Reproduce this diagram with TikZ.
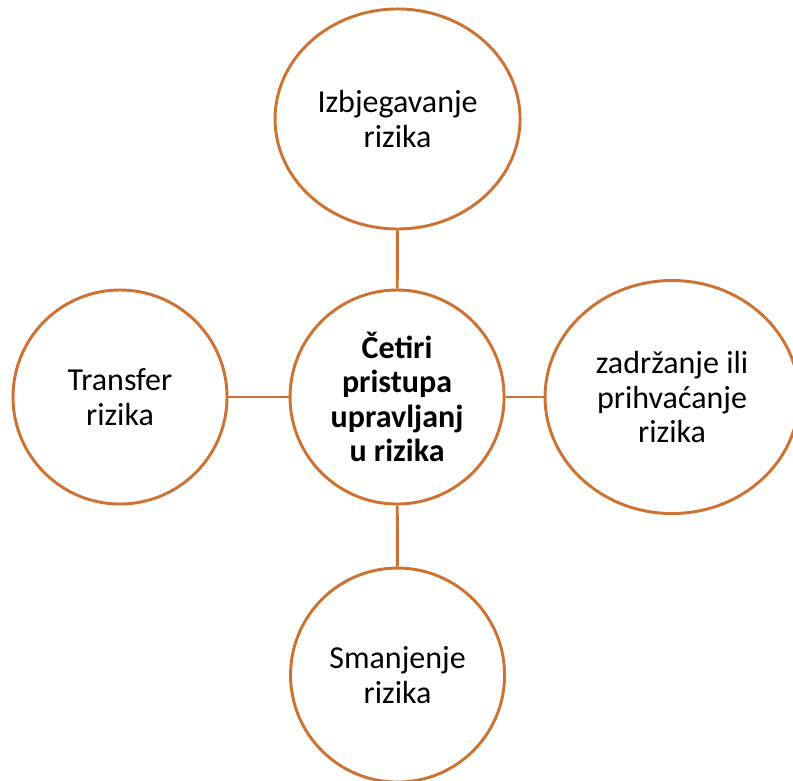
\documentclass[tikz,border=0pt]{standalone}
\usepackage{fontspec}
\setmainfont{Carlito}
\usetikzlibrary{shapes.geometric}
\definecolor{narancasta}{RGB}{204,114,50}

\begin{document}
\begin{tikzpicture}[
  krug/.style={draw=narancasta, line width=2.2pt, ellipse, inner sep=0pt, align=center,
    font=\fontsize{24}{25.9}\selectfont},
  veza/.style={draw=narancasta, line width=2.2pt}]
\useasboundingbox (0,0) rectangle (20.90,20.56);
\node [krug, minimum width=5.641cm, minimum height=5.641cm] (centar) at (10.465,10.096)
  {\bfseries \v{C}etiri\\ \bfseries pristupa\\ \bfseries upravljanj\\ \bfseries u rizika};
\node [krug, minimum width=6.458cm, minimum height=5.799cm] (izbjegavanje) at (10.478,17.424)
  {Izbjegavanje\\ rizika};
\node [krug, minimum width=5.641cm, minimum height=5.641cm] (transfer) at (3.163,10.096)
  {Transfer\\ rizika};
\node [krug, minimum width=6.695cm, minimum height=6.142cm] (zadrzanje) at (17.713,10.096)
  {zadržanje ili\\ prihvaćanje\\ rizika};
\node [krug, minimum width=5.641cm, minimum height=5.641cm] (smanjenje) at (10.478,2.768)
  {Smanjenje\\ rizika};
\draw [veza] (izbjegavanje)--(centar);
\draw [veza] (transfer)--(centar);
\draw [veza] (zadrzanje)--(centar);
\draw [veza] (smanjenje)--(centar);
\end{tikzpicture}
\end{document}
